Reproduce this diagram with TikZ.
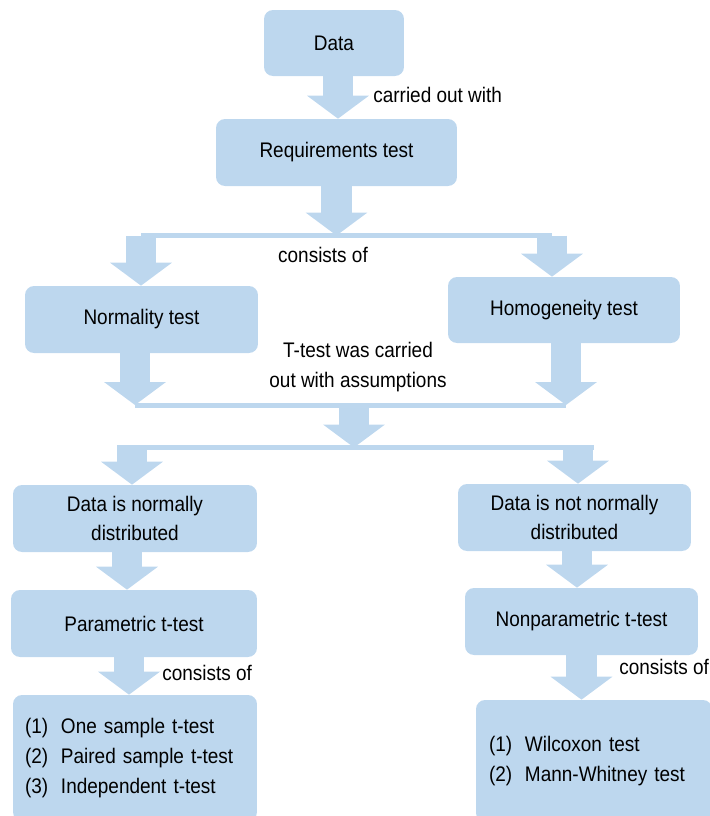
\documentclass[tikz,border=0pt]{standalone}
\usepackage{fontspec}
\setmainfont{Liberation Sans}[FakeStretch=0.9]
\usetikzlibrary{arrows.meta, positioning}
\definecolor{boxblue}{HTML}{BDD7EE}
\newcommand{\testitem}[2]{\makebox[0.72cm][l]{#1}#2}

\begin{document}
\begin{tikzpicture}[x=0.02cm, y=-0.02cm,
    box/.style={rectangle, rounded corners=0.18cm, fill=boxblue, align=center,
                inner sep=0pt, font=\fontsize{12}{17}\selectfont},
    blockarrow/.style={draw=boxblue, line width=0.62cm,
                -{Triangle[width=1.24cm, length=0.46cm, line width=0pt]}},
    bar/.style={draw=boxblue, line width=0.1cm},
    lbl/.style={font=\fontsize{12}{17}\selectfont, inner sep=0pt}]
    \useasboundingbox (0,0) rectangle (710,816);

    % Top part
    \node[box, minimum width=2.8cm, minimum height=1.32cm] (data) at (334,43) {Data};
    \node[box, minimum width=4.82cm, minimum height=1.34cm] (req) at (336.5,152.5) {Requirements test};
    \node[lbl, anchor=west] (carried) at (373,95) {carried out with};
    \draw[blockarrow] ([xshift=0.08cm]data.south) -- ([xshift=0.08cm]data.south |- req.north);

    % Split into the two tests
    \coordinate (b1l) at (141,235.5);
    \coordinate (b1r) at (552,235.5);
    \draw[bar] (b1l) -- (b1r);
    \draw[blockarrow] (req.south) -- (req.south |- b1l);
    \node[lbl] (consists1) at (323,255) {consists of};

    \node[box, minimum width=4.66cm, minimum height=1.34cm] (norm) at (141.5,319.5) {Normality test};
    \node[box, minimum width=4.64cm, minimum height=1.32cm] (homog) at (564,310) {Homogeneity test};
    \draw[blockarrow] (b1l) -- (b1l |- norm.north);
    \draw[blockarrow] (b1r) -- (b1r |- homog.north);

    % Join the assumptions
    \coordinate (b2l) at (135,405);
    \coordinate (b2r) at (566,405);
    \coordinate (b2m) at (354,405);
    \draw[bar] (b2l) -- (b2r);
    \draw[blockarrow] (b2l |- norm.south) -- (b2l);
    \draw[blockarrow] (b2r |- homog.south) -- (b2r);
    \node[lbl, align=center] (assume) at (358,367) {T-test was carried\\out with assumptions};

    % Split by distribution
    \coordinate (b3l) at (132,447.5);
    \coordinate (b3r) at (578,447.5);
    \draw[bar] ([xshift=-0.3cm]b3l) -- ([xshift=0.32cm]b3r);
    \draw[blockarrow] (b2m) -- (b2m |- b3l);

    \node[box, minimum width=4.88cm, minimum height=1.34cm] (normal) at (135,518.5) {Data is normally\\distributed};
    \node[box, minimum width=4.66cm, minimum height=1.34cm] (notnormal) at (574.5,517.5) {Data is not normally\\distributed};
    \draw[blockarrow] (b3l) -- (b3l |- normal.north);
    \draw[blockarrow] (b3r) -- (b3r |- notnormal.north);

    % Left branch
    \node[box, minimum width=4.92cm, minimum height=1.34cm] (param) at (134,623.5) {Parametric t-test};
    \draw[blockarrow] ([xshift=-0.16cm]normal.south) -- ([xshift=-0.16cm]normal.south |- param.north);
    \node[box, text width=4.4cm, inner xsep=0.24cm, minimum height=2.52cm, align=left] (partests) at (135,758)
        {\testitem{(1)}{One sample t-test}\\\testitem{(2)}{Paired sample t-test}\\\testitem{(3)}{Independent t-test}};
    \draw[blockarrow] ([xshift=-0.1cm]param.south) -- ([xshift=-0.1cm]param.south |- partests.north);
    \node[lbl, anchor=west] (consists2) at (162,673) {consists of};

    % Right branch
    \node[box, minimum width=4.66cm, minimum height=1.34cm] (nonparam) at (581.5,621.5) {Nonparametric t-test};
    \draw[blockarrow] ([xshift=0.05cm]notnormal.south) -- ([xshift=0.05cm]notnormal.south |- nonparam.north);
    \node[box, text width=4.2cm, inner xsep=0.26cm, minimum height=2.44cm, align=left] (nonpartests) at (594,761)
        {\testitem{(1)}{Wilcoxon test}\\\testitem{(2)}{Mann-Whitney test}};
    \draw[blockarrow] (nonparam.south) -- (nonparam.south |- nonpartests.north);
    \node[lbl, anchor=west] (consists3) at (619,667) {consists of};
\end{tikzpicture}
\end{document}
